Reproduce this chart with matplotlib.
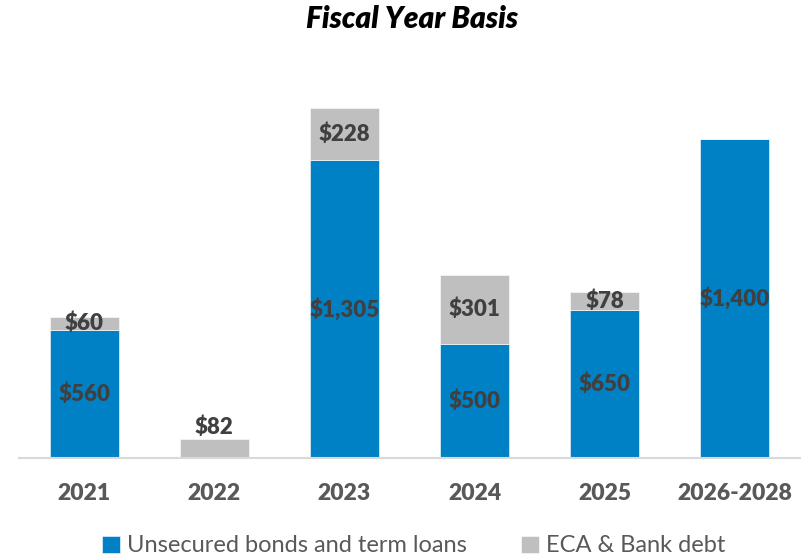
import matplotlib
matplotlib.use("Agg")
import matplotlib.pyplot as plt

plt.rcParams['font.family'] = ['Lato', 'DejaVu Sans']

categories = ["2021", "2022", "2023", "2024", "2025", "2026-2028"]
unsecured = [560, 0, 1305, 500, 650, 1400]
eca_bank = [60, 82, 228, 301, 78, 0]

blue = "#0081C6"
gray = "#BFBFBF"
label_color = "#404040"
tick_color = "#595959"

fig = plt.figure(figsize=(8.03, 5.59), dpi=100)
ax = fig.add_axes([19 / 803, 1 - 458 / 559, 781 / 803, 398 / 559])

x = list(range(len(categories)))
width = 0.53
b1 = ax.bar(x, unsecured, width, color=blue, edgecolor="white", linewidth=0.4,
            label="Unsecured bonds and term loans")
b2 = ax.bar(x, eca_bank, width, bottom=unsecured, color=gray, edgecolor="white",
            linewidth=0.4, label="ECA & Bank debt")

lab_kw = dict(ha="center", fontsize=16, fontweight="heavy", color=label_color)
for i, (u, e) in enumerate(zip(unsecured, eca_bank)):
    if u > 0:
        ax.text(i, u / 2, f"${u:,}", va="center", **lab_kw)
    if e > 0:
        if u == 0:
            ax.text(i, u + e + 6, f"${e:,}", va="bottom", **lab_kw)
        else:
            ax.text(i, u + e / 2, f"${e:,}", va="center", **lab_kw)

ax.set_xlim(-0.5, 5.5)
ax.set_ylim(0, 1745)
ax.set_xticks(x)
ax.set_xticklabels(categories, fontsize=16.5, fontweight="heavy", color=tick_color)
ax.tick_params(axis="x", length=0, pad=18)
ax.set_yticks([])
for s in ["top", "left", "right"]:
    ax.spines[s].set_visible(False)
ax.spines["bottom"].set_color("#D9D9D9")
ax.spines["bottom"].set_linewidth(1.5)

fig.text(412 / 803, 1 - 19 / 559, "Fiscal Year Basis", ha="center", va="center",
         fontsize=21.5, fontweight="heavy", fontstyle="italic", color="#000000")

leg = fig.legend(handles=[b1, b2], loc="center", bbox_to_anchor=(414 / 803, 1 - 546 / 559),
                 ncol=2, frameon=False, fontsize=17, handlelength=0.75, handleheight=0.75,
                 handletextpad=0.3, columnspacing=2.3)
for t in leg.get_texts():
    t.set_color(tick_color)

fig.savefig("out.png", dpi=100)
